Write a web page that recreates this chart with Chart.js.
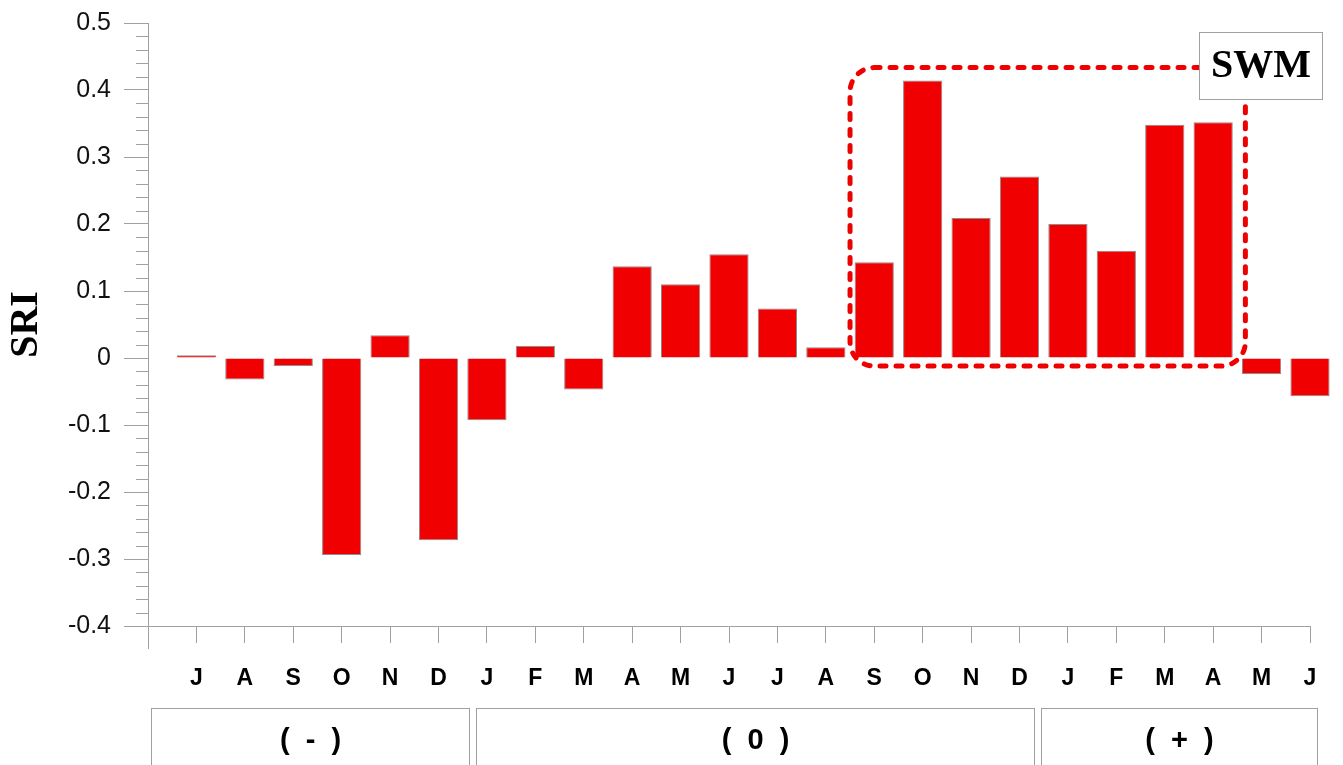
<!DOCTYPE html>
<html>
<head>
<meta charset="utf-8">
<script src="https://cdn.jsdelivr.net/npm/chart.js@4"></script>
<style>
  body { margin: 0; background: #fff; }
  canvas { display: block; }
</style>
</head>
<body>
<canvas id="sriChart" width="1343" height="765"></canvas>
<script>
// months from July of year (-) to June of year (+)
const monthLabels = ['J', 'A', 'S', 'O', 'N', 'D', 'J', 'F', 'M', 'A', 'M', 'J',
                     'J', 'A', 'S', 'O', 'N', 'D', 'J', 'F', 'M', 'A', 'M', 'J'];
const sriValues = [0.004, -0.032, -0.012, -0.294, 0.034, -0.272, -0.093, 0.018, -0.047, 0.137, 0.110, 0.155,
                   0.074, 0.016, 0.143, 0.414, 0.209, 0.271, 0.200, 0.160, 0.348, 0.352, -0.024, -0.057];
const groupLabels = ['(  -  )', '(  0  )', '(  +  )'];
const groupFrom = [0.07, 6.78, 18.45];
const groupTo = [6.63, 18.3, 24.15];
const swmLabel = 'SWM';
const swmFirst = 15;
const swmLast = 22;

const axisGray = '#a0a0a0';

// minor ticks on y, group boxes under the months, SWM dashed frame
const decorations = {
    id: 'decorations',
    afterDraw(chart) {
        const ctx = chart.ctx;
        const x = chart.scales.x;
        const y = chart.scales.y;
        ctx.save();

        // minor y ticks every 0.02
        ctx.strokeStyle = axisGray;
        ctx.lineWidth = 1;
        for (let i = -20; i <= 25; i++) {
            if (i % 5 === 0) continue;
            const py = Math.round(y.getPixelForValue(i / 50)) + 0.5;
            ctx.beginPath();
            ctx.moveTo(x.left - 12, py);
            ctx.lineTo(x.left, py);
            ctx.stroke();
        }
        // y axis runs a bit below the x axis
        ctx.beginPath();
        ctx.moveTo(x.left + 0.5, y.bottom);
        ctx.lineTo(x.left + 0.5, y.bottom + 23);
        ctx.stroke();

        // season boxes
        ctx.font = 'bold 29px "Liberation Sans", Arial, sans-serif';
        ctx.textAlign = 'center';
        ctx.textBaseline = 'middle';
        ctx.fillStyle = '#000';
        groupLabels.forEach((label, i) => {
            const left = Math.round(x.getPixelForValue(groupFrom[i])) + 0.5;
            const right = Math.round(x.getPixelForValue(groupTo[i])) + 0.5;
            ctx.strokeRect(left, 708.5, right - left, 80);
            ctx.fillText(label, (left + right) / 2, 741);
        });

        // dashed frame round the SWM months
        const fLeft = x.getPixelForValue(swmFirst - 0.5) + 0;
        const fRight = x.getPixelForValue(swmLast + 0.5) + 8;
        const fTop = y.getPixelForValue(Math.max(...sriValues.slice(swmFirst - 1, swmLast))) - 13;
        const fBottom = y.getPixelForValue(0) + 8;
        ctx.strokeStyle = '#ee0000';
        ctx.lineWidth = 5;
        ctx.lineCap = 'round';
        ctx.setLineDash([6, 10]);
        ctx.beginPath();
        ctx.roundRect(fLeft, fTop, fRight - fLeft, fBottom - fTop, 24);
        ctx.stroke();
        ctx.setLineDash([]);

        // SWM label box
        ctx.fillStyle = '#fff';
        ctx.fillRect(1199, 32, 124, 68);
        ctx.strokeStyle = axisGray;
        ctx.lineWidth = 1;
        ctx.strokeRect(1199.5, 32.5, 123, 67);
        ctx.fillStyle = '#000';
        ctx.font = 'bold 40px "Liberation Serif", "Times New Roman", serif';
        ctx.fillText(swmLabel, 1261, 67);

        ctx.restore();
    }
};

const ctx = document.getElementById('sriChart').getContext('2d');
new Chart(ctx, {
    type: 'bar',
    data: {
        datasets: [{
            data: sriValues.map((v, i) => ({ x: i + 1, y: v })),
            backgroundColor: '#f00000',
            borderColor: '#8c8c8c',
            borderWidth: 1,
            barPercentage: 0.81,
            categoryPercentage: 1,
            clip: false
        }]
    },
    options: {
        responsive: false,
        animation: false,
        layout: { padding: { top: 23, right: 33, left: 0, bottom: 0 } },
        plugins: {
            legend: { display: false },
            tooltip: { enabled: false }
        },
        scales: {
            x: {
                type: 'linear',
                min: 0,
                max: 24,
                offset: false,
                afterFit: (scale) => { scale.height = 139; },
                grid: {
                    offset: false,
                    drawOnChartArea: false,
                    drawTicks: true,
                    tickLength: 17,
                    color: axisGray
                },
                border: { color: axisGray },
                ticks: {
                    stepSize: 1,
                    autoSkip: false,
                    maxRotation: 0,
                    padding: 22,
                    color: '#000',
                    font: { family: '"Liberation Sans", Arial, sans-serif', size: 23, weight: 'bold' },
                    callback: (value) => monthLabels[value - 1] || ''
                }
            },
            y: {
                min: -0.4,
                max: 0.5,
                afterFit: (scale) => {
                    scale.width = 148;
                    scale.paddingTop = 0;
                    scale.paddingBottom = 0;
                },
                grid: {
                    drawOnChartArea: false,
                    drawTicks: true,
                    tickLength: 24,
                    color: axisGray
                },
                border: { color: axisGray },
                ticks: {
                    stepSize: 0.1,
                    padding: 13,
                    color: '#111',
                    font: { family: '"Liberation Sans", Arial, sans-serif', size: 25 },
                    callback: (value) => String(Math.round(value * 10) / 10)
                },
                title: {
                    display: true,
                    text: 'SRI',
                    color: '#000',
                    padding: { top: 3, bottom: 0 },
                    font: { family: '"Liberation Serif", "Times New Roman", serif', size: 40, weight: 'bold' }
                }
            }
        }
    },
    plugins: [decorations]
});
</script>
</body>
</html>
